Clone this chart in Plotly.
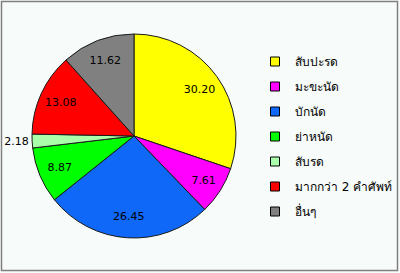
import plotly.graph_objects as go

categories = ["สับปะรด", "มะขะนัด", "บักนัด", "ย่าหนัด", "สับรด", "มากกว่า 2 คำศัพท์", "อื่นๆ"]
values = [30.20, 7.61, 26.45, 8.87, 2.18, 13.08, 11.62]
labels_text = ["30.20", "7.61", "26.45", "8.87", "2.18", "13.08", "11.62"]
colors = ["#ffff00", "#ff00ff", "#0f68f8", "#00ff00", "#aaffaa", "#ff0000", "#808080"]
text_pos = ["inside", "inside", "inside", "inside", "outside", "inside", "inside"]

W, H = 400, 273
cx, cy, R = 134, 136, 102
domain = dict(x=[(cx - R) / W, (cx + R) / W], y=[(H - cy - R) / H, (H - cy + R) / H])
label_font = dict(family="DejaVu Sans, Verdana, sans-serif", size=11, color="#000000")

fig = go.Figure()

# main pie (slices + outside label)
fig.add_trace(go.Pie(
    labels=categories, values=values,
    text=[t if p == "outside" else "" for t, p in zip(labels_text, text_pos)],
    textinfo="text", textposition=["outside" if p == "outside" else "none" for p in text_pos],
    outsidetextfont=label_font,
    marker=dict(colors=colors, line=dict(color="#1a1a1a", width=1)),
    sort=False, direction="clockwise", rotation=0,
    hoverinfo="label+value", showlegend=False, domain=domain,
))

# transparent ring carrying the inside labels at ~0.8R
fig.add_trace(go.Pie(
    labels=categories, values=values,
    text=[t if p == "inside" else "" for t, p in zip(labels_text, text_pos)],
    textinfo="text", textposition="inside", insidetextorientation="horizontal",
    insidetextfont=label_font, hole=0.58,
    marker=dict(colors=["rgba(0,0,0,0)"] * len(values), line=dict(width=0)),
    sort=False, direction="clockwise", rotation=0,
    hoverinfo="skip", showlegend=False, domain=domain,
))

# legend entries
for name, col in zip(categories, colors):
    fig.add_trace(go.Scatter(
        x=[None], y=[None], mode="markers", name=name, legendgroup=name,
        marker=dict(symbol="square", size=9, color=col, line=dict(color="#000000", width=1)),
        hoverinfo="skip",
    ))

fig.update_layout(
    width=W, height=H,
    margin=dict(l=0, r=0, t=0, b=0, autoexpand=False),
    paper_bgcolor="#f7fbf9",
    plot_bgcolor="#f7fbf9",
    xaxis=dict(visible=False), yaxis=dict(visible=False),
    showlegend=True,
    legend=dict(
        x=255 / W, y=1 - 47 / H, xanchor="left", yanchor="top",
        font=dict(family="Tahoma, DejaVu Sans, Noto Sans, sans-serif", size=12, color="#000000"),
        tracegroupgap=6, itemwidth=30, traceorder="grouped",
        bgcolor="rgba(0,0,0,0)",
    ),
    shapes=[dict(type="rect", xref="paper", yref="paper",
                 x0=1.5 / W, x1=(W - 2.5) / W, y0=2.5 / H, y1=(H - 1.5) / H,
                 line=dict(color="#7f7f7f", width=1.5), fillcolor="rgba(0,0,0,0)", layer="above")],
)

fig.write_html("out.html")
